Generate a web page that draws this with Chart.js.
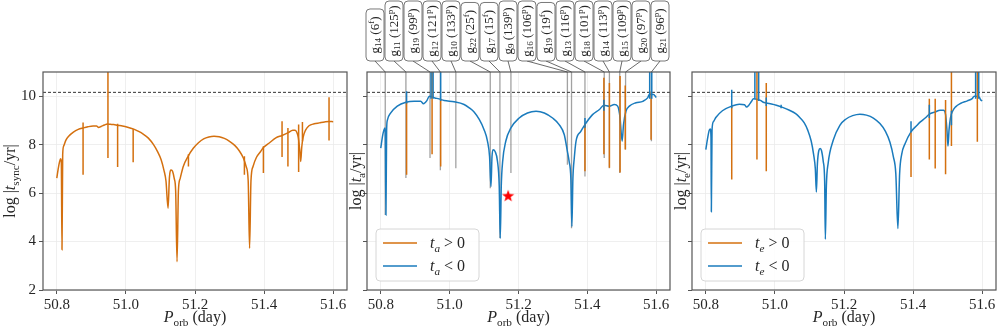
<!DOCTYPE html>
<html>
<head>
<meta charset="utf-8">
<script src="https://cdn.jsdelivr.net/npm/chart.js@4.4.1/dist/chart.umd.min.js"></script>
<style>
  body { margin: 0; background: #fff; }
  .wrap { position: relative; width: 997px; height: 332px; }
  .wrap canvas { position: absolute; left: 0; top: 0; }
</style>
</head>
<body>
<div class="wrap">
  <canvas id="sync" width="997" height="332"></canvas>
  <canvas id="ta" width="997" height="332"></canvas>
  <canvas id="te" width="997" height="332"></canvas>
</div>
<script>
// ---- axis ranges / ticks
const X_MIN = 50.76, X_MAX = 51.64
const Y_MIN = 2, Y_MAX = 11
const xStep = 0.2
const yStep = 2
const tAge = 10.16 // dashed line, log age

// ---- panel 1: log |t_sync/yr|  [P_orb, value]
const syncCurve = [
  [50.800, 6.62], [50.804, 7.0], [50.808, 7.3], [50.811, 7.42], [50.813, 7.3],
  [50.815, 3.66], [50.817, 7.6], [50.820, 7.95], [50.826, 8.18], [50.835, 8.36],
  [50.848, 8.52], [50.862, 8.63], [50.876, 8.69], [50.890, 8.74], [50.905, 8.77],
  [50.915, 8.77], [50.921, 8.71], [50.928, 8.75], [50.938, 8.81], [50.946, 8.85],
  [50.955, 8.84], [50.965, 8.83], [50.976, 8.8], [50.990, 8.77], [51.005, 8.72],
  [51.021, 8.65], [51.035, 8.56], [51.050, 8.44], [51.065, 8.27], [51.080, 8.0],
  [51.092, 7.7], [51.102, 7.38], [51.110, 6.95], [51.116, 6.5], [51.122, 5.38],
  [51.126, 6.65], [51.131, 6.95], [51.135, 6.9], [51.140, 6.6], [51.144, 6.1],
  [51.148, 3.17], [51.152, 6.1], [51.157, 6.6], [51.166, 7.1], [51.180, 7.52],
  [51.195, 7.85], [51.210, 8.08], [51.225, 8.24], [51.240, 8.32], [51.255, 8.35],
  [51.270, 8.33], [51.285, 8.26], [51.300, 8.14], [51.315, 7.97], [51.328, 7.75],
  [51.340, 7.45], [51.348, 7.1], [51.354, 6.5], [51.358, 3.72], [51.362, 6.5],
  [51.368, 7.1], [51.378, 7.48], [51.390, 7.72], [51.398, 7.88], [51.415, 8.07],
  [51.434, 8.28], [51.452, 8.38], [51.470, 8.5], [51.483, 8.6], [51.490, 8.6],
  [51.495, 8.5], [51.499, 8.3], [51.503, 7.8], [51.506, 7.31], [51.509, 7.9],
  [51.513, 8.3], [51.520, 8.6], [51.530, 8.78], [51.545, 8.86], [51.560, 8.9],
  [51.575, 8.94], [51.587, 8.96], [51.600, 8.95]
]
// [P_orb, low, high]
const syncSpikes = [
  [50.876, 6.76, 8.92], [50.948, 7.45, 11.5], [50.976, 7.08, 8.86], [51.021, 7.27, 8.65],
  [51.181, 7.1, 7.6], [51.343, 6.76, 7.52], [51.398, 6.83, 7.93], [51.452, 7.49, 8.97],
  [51.469, 7.1, 8.69], [51.500, 6.87, 8.83], [51.511, 8.14, 8.94], [51.588, 8.17, 9.96]
]

// ---- panel 2: log |t_a/yr|
const taCurve = [
  [50.800, 7.86], [50.805, 8.34], [50.809, 8.6], [50.812, 8.69], [50.813, 8.5],
  [50.815, 5.1], [50.817, 8.6], [50.819, 9.0], [50.829, 9.31], [50.848, 9.59],
  [50.873, 9.75], [50.897, 9.79], [50.916, 9.79], [50.924, 9.69], [50.934, 9.82],
  [50.941, 10.0], [50.957, 9.93], [50.969, 9.89], [50.984, 9.82], [51.013, 9.77],
  [51.042, 9.66], [51.057, 9.52], [51.071, 9.35], [51.086, 9.04], [51.100, 8.62],
  [51.110, 8.14], [51.116, 7.5], [51.120, 6.27], [51.123, 7.5], [51.126, 7.79],
  [51.132, 7.72], [51.139, 7.31], [51.144, 6.3], [51.147, 4.14], [51.150, 6.3],
  [51.154, 7.31], [51.163, 8.14], [51.178, 8.69], [51.202, 9.1], [51.226, 9.31],
  [51.251, 9.38], [51.275, 9.31], [51.299, 9.1], [51.318, 8.83], [51.333, 8.41],
  [51.342, 7.72], [51.347, 7.31], [51.352, 6.6], [51.355, 4.62], [51.358, 6.6],
  [51.362, 7.45], [51.367, 8.14], [51.381, 8.55], [51.393, 8.83], [51.415, 9.24],
  [51.435, 9.45], [51.448, 9.63], [51.464, 9.59], [51.478, 9.66], [51.488, 9.59],
  [51.495, 9.1], [51.501, 8.14], [51.505, 8.83], [51.512, 9.38], [51.522, 9.59],
  [51.541, 9.73], [51.561, 9.79], [51.575, 9.93], [51.580, 10.07], [51.592, 10.07],
  [51.600, 9.95]
]
const taPosSpikes = [
  [50.875, 6.76, 9.75], [50.949, 7.6, 11.5], [50.974, 7.1, 9.9], [51.393, 6.9, 8.85],
  [51.448, 7.6, 10.76], [51.464, 7.05, 10.55], [51.495, 6.85, 10.83], [51.510, 7.8, 10.44],
  [51.585, 8.2, 10.2]
]
const taNegSpikes = [
  [50.875, 9.7, 10.21], [50.946, 9.9, 11.5], [50.952, 9.9, 11.5], [50.974, 9.8, 11.5],
  [51.393, 8.7, 9.1], [51.448, 9.4, 9.85], [51.581, 9.9, 11.5], [51.587, 9.9, 11.5]
]
const taStar = [51.17, 5.89]

// resonant modes marked on panel 2
const modeIdx = [14, 11, 19, 12, 10, 22, 17, 9, 16, 19, 13, 18, 14, 15, 20, 21]
const modeOrder = ['6', '125', '99', '121', '133', '25', '15', '139', '106', '19', '116', '101', '113', '109', '97', '96']
const modeKind = ['f', 'p', 'p', 'p', 'p', 'f', 'f', 'p', 'p', 'f', 'p', 'p', 'p', 'p', 'p', 'p']
const modeP = [50.813, 50.873, 50.943, 50.973, 51.018, 51.118, 51.146, 51.178, 51.342, 51.354, 51.393, 51.449, 51.464, 51.494, 51.511, 51.586]
const modeLow = [5.1, 6.62, 7.45, 6.94, 7.03, 6.2, 4.14, 6.83, 7.17, 4.55, 6.69, 7.45, 7.03, 6.83, 7.8, 8.14]

// ---- panel 3: log |t_e/yr|
const teCurve = [
  [50.800, 7.8], [50.805, 8.25], [50.810, 8.6], [50.813, 8.65], [50.815, 8.3],
  [50.816, 5.23], [50.818, 8.6], [50.822, 8.95], [50.829, 9.12], [50.848, 9.4],
  [50.875, 9.59], [50.897, 9.67], [50.912, 9.65], [50.918, 9.55], [50.924, 9.62],
  [50.932, 9.78], [50.938, 9.9], [50.958, 9.83], [50.965, 9.76], [50.975, 9.72],
  [50.990, 9.68], [51.004, 9.63], [51.020, 9.55], [51.042, 9.42], [51.060, 9.28],
  [51.072, 9.12], [51.085, 8.9], [51.095, 8.6], [51.105, 8.15], [51.112, 7.6],
  [51.117, 7.0], [51.120, 6.05], [51.123, 7.2], [51.127, 7.75], [51.131, 7.84],
  [51.135, 7.75], [51.140, 7.3], [51.144, 6.5], [51.146, 4.1], [51.149, 6.3],
  [51.154, 7.22], [51.169, 8.19], [51.188, 8.8], [51.205, 9.05], [51.225, 9.2],
  [51.246, 9.26], [51.265, 9.22], [51.285, 9.1], [51.304, 8.87], [51.320, 8.55],
  [51.333, 8.1], [51.343, 7.5], [51.350, 6.8], [51.356, 4.54], [51.361, 6.8],
  [51.367, 7.6], [51.377, 8.05], [51.394, 8.53], [51.410, 8.78], [51.421, 8.94],
  [51.435, 9.1], [51.447, 9.26], [51.464, 9.35], [51.478, 9.42], [51.488, 9.42],
  [51.494, 9.25], [51.498, 8.6], [51.501, 7.94], [51.504, 8.6], [51.508, 9.1],
  [51.515, 9.4], [51.523, 9.56], [51.537, 9.7], [51.557, 9.81], [51.571, 9.9],
  [51.577, 10.0], [51.592, 9.95], [51.595, 9.86], [51.600, 9.81]
]
const tePosSpikes = [
  [50.875, 6.56, 9.6], [50.948, 7.39, 11.5], [50.975, 6.9, 10.55], [51.394, 6.67, 8.5],
  [51.447, 7.39, 9.9], [51.464, 7.02, 9.9], [51.494, 6.78, 9.84], [51.511, 7.94, 11.5],
  [51.586, 8.12, 11.5]
]
const teNegSpikes = [
  [50.875, 9.5, 10.27], [50.942, 9.9, 11.5], [50.953, 9.8, 11.5], [50.975, 9.6, 9.95],
  [51.018, 9.5, 9.65], [51.394, 8.5, 8.97], [51.447, 9.1, 9.65], [51.511, 8.8, 9.4],
  [51.581, 9.9, 11.5], [51.590, 9.9, 11.5]
]

// ---- styling
const SERIF = '"Liberation Serif", "DejaVu Serif", serif'
const ORANGE = '#d4700f'
const BLUE = '#1a7bbd'
const TEXT = '#262626'

const pts = (arr) => arr.map(([x, y]) => ({ x, y }))
const segs = (arr) => arr.flatMap(([x, lo, hi]) => [{ x, y: lo }, { x, y: hi }, { x, y: null }])

// rich text pieces: r = roman, i = italic, sub / sup
const R = (t) => ({ t }), I = (t) => ({ t, it: true })
const SUB = (t, it) => ({ t, sub: true, it }), SUP = (t) => ({ t, sup: true })

function partFont(p, fs) {
  const size = p.sub || p.sup ? fs * 0.7 : fs
  return (p.it ? 'italic ' : '') + size + 'px ' + SERIF
}
function richWidth(ctx, parts, fs) {
  let w = 0
  for (const p of parts) { ctx.font = partFont(p, fs); w += ctx.measureText(p.t).width }
  return w
}
function drawRich(ctx, parts, x, y, fs) {
  let cx = x
  ctx.textBaseline = 'alphabetic'
  ctx.textAlign = 'left'
  for (const p of parts) {
    ctx.font = partFont(p, fs)
    const dy = p.sub ? fs * 0.22 : p.sup ? -fs * 0.36 : 0
    ctx.fillText(p.t, cx, y + dy)
    cx += ctx.measureText(p.t).width
  }
}
function drawRichCentered(ctx, parts, x, y, fs) {
  drawRich(ctx, parts, x - richWidth(ctx, parts, fs) / 2, y, fs)
}

const xTitle = [I('P'), SUB('orb'), R(' (day)')]

function starImage() {
  const c = document.createElement('canvas')
  c.width = 14; c.height = 14
  const g = c.getContext('2d')
  g.beginPath()
  for (let k = 0; k < 10; k++) {
    const r = k % 2 ? 2.6 : 6.4
    const a = -Math.PI / 2 + k * Math.PI / 5
    g.lineTo(7 + r * Math.cos(a), 7.4 + r * Math.sin(a))
  }
  g.closePath()
  g.fillStyle = '#ff0000'
  g.fill()
  return c
}

function decoPlugin(cfg) {
  return {
    id: 'deco',
    afterDraw(chart) {
      const { ctx, chartArea: a } = chart
      ctx.save()
      // frame
      ctx.strokeStyle = '#555'
      ctx.lineWidth = 1.2
      ctx.strokeRect(a.left, a.top, a.right - a.left, a.bottom - a.top)
      ctx.fillStyle = TEXT
      drawRichCentered(ctx, xTitle, (a.left + a.right) / 2, 322, 16)
      // y title
      ctx.save()
      ctx.translate(a.left - cfg.yGap, (a.top + a.bottom) / 2)
      ctx.rotate(-Math.PI / 2)
      drawRichCentered(ctx, cfg.yTitle, 0, 0, 16)
      ctx.restore()
      // legend
      if (cfg.legend) {
        const bx = a.left + 9, by = a.bottom - 61, bw = 103, bh = 52
        ctx.beginPath()
        ctx.roundRect(bx, by, bw, bh, 4)
        ctx.fillStyle = 'rgba(255,255,255,0.85)'
        ctx.fill()
        ctx.strokeStyle = '#d6d6d6'
        ctx.lineWidth = 1
        ctx.stroke()
        cfg.legend.forEach((item, k) => {
          const ly = by + 14 + k * 23
          ctx.strokeStyle = item.color
          ctx.lineWidth = 1.5
          ctx.beginPath()
          ctx.moveTo(bx + 7, ly)
          ctx.lineTo(bx + 41, ly)
          ctx.stroke()
          ctx.fillStyle = TEXT
          drawRich(ctx, item.text, bx + 54, ly + 5, 16)
        })
      }
      // mode labels above the plot
      if (cfg.modes) {
        const x0 = a.left + 8, x1 = a.right - 10
        const step = (x1 - x0) / (modeP.length - 1)
        const bottom = 61
        modeP.forEach((p, i) => {
          const cx = x0 + i * step
          const px = chart.scales.x.getPixelForValue(p)
          ctx.strokeStyle = '#444'
          ctx.lineWidth = 0.8
          ctx.beginPath()
          ctx.moveTo(cx, bottom)
          ctx.lineTo(px, a.top)
          ctx.stroke()
          const parts = [R('g'), SUB(String(modeIdx[i])), R(' ('), R(modeOrder[i]), SUP(modeKind[i]), R(')')]
          const tw = richWidth(ctx, parts, 13)
          const h = Math.min(tw + 15, 60)
          ctx.beginPath()
          ctx.roundRect(cx - 9, bottom - h, 18, h, 4)
          ctx.fillStyle = '#fff'
          ctx.fill()
          ctx.strokeStyle = '#555'
          ctx.lineWidth = 0.8
          ctx.stroke()
          ctx.save()
          ctx.translate(cx + 3.6, bottom - (h - tw) / 2)
          ctx.rotate(-Math.PI / 2)
          ctx.fillStyle = TEXT
          drawRich(ctx, parts, 0, 0, 13)
          ctx.restore()
        })
      }
      ctx.restore()
    }
  }
}

function lineSet(data, color, order, extra) {
  return Object.assign({ data, borderColor: color, borderWidth: 1.5, pointRadius: 0, order }, extra || {})
}
const dashed = () => lineSet([{ x: X_MIN, y: tAge }, { x: X_MAX, y: tAge }], '#333', 4, { borderWidth: 1, borderDash: [3, 2] })

function makePanel(id, datasets, padLeft, padRight, yWidth, showYLabels, deco) {
  const tickFont = { family: SERIF, size: 15 }
  return new Chart(document.getElementById(id), {
    type: 'line',
    data: { datasets },
    options: {
      responsive: false,
      animation: false,
      events: [],
      layout: { padding: { left: padLeft, right: padRight, top: 72, bottom: 0 } },
      plugins: { legend: { display: false }, tooltip: { enabled: false } },
      scales: {
        x: {
          type: 'linear', min: X_MIN, max: X_MAX,
          ticks: { stepSize: xStep, includeBounds: false, autoSkip: false, maxRotation: 0,
            callback: (v) => v.toFixed(1), font: tickFont, color: TEXT, padding: 2 },
          grid: { color: '#ebebeb', lineWidth: 0.8, tickColor: '#555', tickLength: 4, tickWidth: 1 },
          border: { display: false },
          afterFit: (s) => { s.height = 42; s.paddingLeft = 0; s.paddingRight = 0 }
        },
        y: {
          type: 'linear', min: Y_MIN, max: Y_MAX,
          ticks: { stepSize: yStep, includeBounds: false,
            callback: (v) => (showYLabels ? String(v) : ''), font: tickFont, color: TEXT, padding: 3 },
          grid: { color: '#ebebeb', lineWidth: 0.8, tickColor: '#555', tickLength: 4, tickWidth: 1 },
          border: { display: false },
          afterFit: (s) => { s.width = yWidth; s.paddingTop = 0; s.paddingBottom = 0 }
        }
      }
    },
    plugins: [decoPlugin(deco)]
  })
}

// panel 1
makePanel('sync', [
  lineSet(segs(syncSpikes), ORANGE, 1),
  lineSet(pts(syncCurve), ORANGE, 2, { cubicInterpolationMode: 'monotone' }),
  dashed()
], 0, 650, 43, true, {
  yGap: 28,
  yTitle: [R('log |'), I('t'), SUB('sync'), R('/yr|')]
})

// panel 2
const greyLines = modeP.flatMap((p, i) => [{ x: p, y: Y_MAX }, { x: p, y: modeLow[i] }, { x: p, y: null }])
makePanel('ta', [
  { data: [{ x: taStar[0], y: taStar[1] }], showLine: false, pointStyle: starImage(), pointRadius: 6, order: 0 },
  lineSet(segs(taNegSpikes), BLUE, 1),
  lineSet(segs(taPosSpikes), ORANGE, 2),
  lineSet(pts(taCurve), BLUE, 3, { cubicInterpolationMode: 'monotone' }),
  dashed(),
  lineSet(greyLines, 'rgba(100,100,100,0.6)', 5, { borderWidth: 1.3 })
], 343, 327, 24, false, {
  yGap: 6,
  yTitle: [R('log |'), I('t'), SUB('a'), R('/yr|')],
  legend: [
    { color: ORANGE, text: [I('t'), SUB('a', true), R(' > 0')] },
    { color: BLUE, text: [I('t'), SUB('a', true), R(' < 0')] }
  ],
  modes: true
})

// panel 3
makePanel('te', [
  lineSet(segs(teNegSpikes), BLUE, 1),
  lineSet(segs(tePosSpikes), ORANGE, 2),
  lineSet(pts(teCurve), BLUE, 3, { cubicInterpolationMode: 'monotone' }),
  dashed()
], 668, 1, 24, false, {
  yGap: 6,
  yTitle: [R('log |'), I('t'), SUB('e'), R('/yr|')],
  legend: [
    { color: ORANGE, text: [I('t'), SUB('e', true), R(' > 0')] },
    { color: BLUE, text: [I('t'), SUB('e', true), R(' < 0')] }
  ]
})
</script>
</body>
</html>
